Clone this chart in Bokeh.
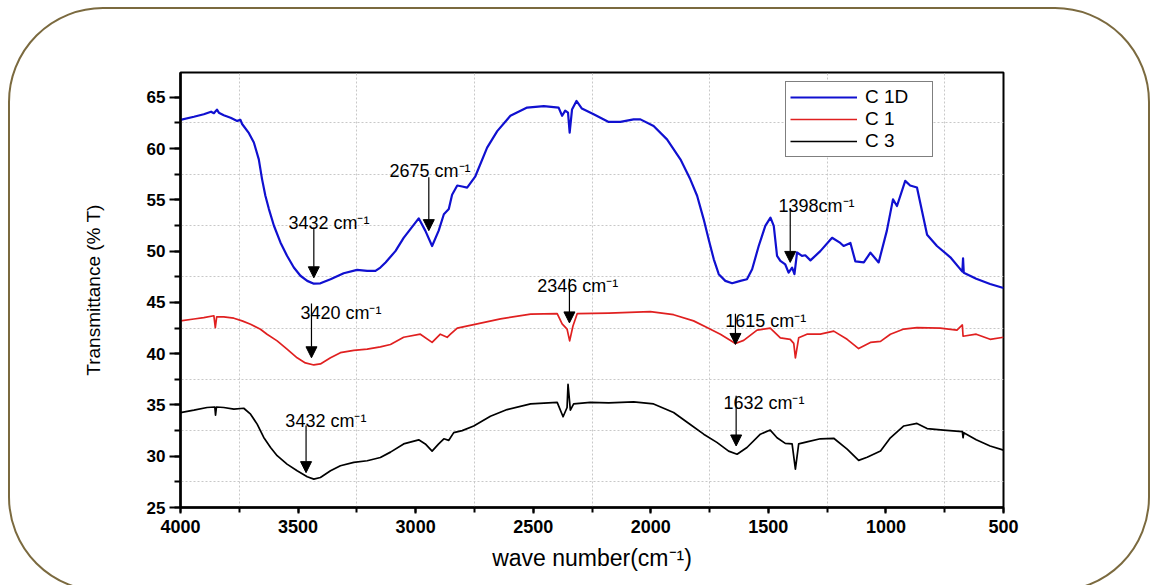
from bokeh.plotting import figure
from bokeh.models import (Range1d, SingleIntervalTicker, FixedTicker, Legend, LegendItem,
                          Arrow, NormalHead, ColumnDataSource, InlineStyleSheet)
from bokeh.core.properties import value
from bokeh.embed import file_html
from bokeh.resources import INLINE

# ---------------- data (wave number, % transmittance) ----------------
c1d_wn = [4000, 3943, 3901, 3870, 3858, 3845, 3837, 3816, 3787, 3759, 3745, 3738, 3709, 3688,
          3667, 3653, 3639, 3624, 3603, 3575, 3547, 3518, 3490, 3461, 3433, 3405, 3362, 3306,
          3249, 3206, 3171, 3150, 3128, 3086, 3051, 2987, 2959, 2930, 2902, 2880, 2859, 2845,
          2823, 2802, 2781, 2746, 2696, 2653, 2597, 2526, 2455, 2392, 2377, 2364, 2352, 2345,
          2335, 2316, 2293, 2243, 2179, 2129, 2073, 2044, 1988, 1931, 1874, 1832, 1803, 1775,
          1754, 1732, 1711, 1683, 1654, 1619, 1591, 1569, 1541, 1513, 1491, 1477, 1463, 1449,
          1428, 1414, 1399, 1389, 1378, 1357, 1343, 1321, 1279, 1229, 1194, 1180, 1151, 1130,
          1094, 1066, 1031, 996, 970, 953, 918, 897, 868, 825, 783, 726, 675, 672, 669, 616,
          557, 500]
c1d_t = [62.8, 63.1, 63.35, 63.6, 63.45, 63.8, 63.5, 63.25, 63.0, 62.7, 62.8, 62.4, 61.5, 60.6,
         58.95, 57.0, 55.4, 54.1, 52.5, 50.85, 49.55, 48.4, 47.6, 47.1, 46.83, 46.86, 47.26, 47.84,
         48.17, 48.07, 48.07, 48.4, 48.9, 50.0, 51.3, 53.2, 52.0, 50.5, 52.0, 53.6, 54.1, 55.5,
         56.4, 56.3, 56.2, 57.3, 60.1, 61.7, 63.2, 64.0, 64.15, 64.0, 63.2, 63.7, 63.5, 61.55,
         63.8, 64.65, 63.9, 63.35, 62.6, 62.6, 62.85, 62.85, 62.2, 60.9, 58.95, 57.0, 55.4, 53.1,
         51.15, 49.2, 47.75, 47.1, 46.87, 47.1, 47.26, 48.24, 50.5, 52.46, 53.27, 52.46, 49.54, 49.05,
         48.7, 47.9, 48.4, 47.75, 49.87, 49.54, 49.6, 49.1, 50.0, 51.3, 50.8, 50.5, 50.8, 49.0,
         48.9, 49.85, 48.9, 52.0, 55.05, 54.4, 56.85, 56.4, 56.2, 51.6, 50.5, 49.4, 48.0, 49.3, 47.9, 47.3,
         46.8, 46.4]

c1_wn = [4000, 3943, 3901, 3858, 3852, 3846, 3816, 3773, 3738, 3702, 3660, 3632, 3589, 3547,
         3504, 3469, 3433, 3405, 3362, 3320, 3263, 3206, 3150, 3107, 3051, 2980, 2930, 2895,
         2866, 2852, 2823, 2738, 2639, 2511, 2398, 2377, 2356, 2345, 2331, 2313, 2179, 2002,
         1903, 1818, 1761, 1704, 1640, 1605, 1548, 1492, 1449, 1407, 1392, 1385, 1371, 1336,
         1279, 1222, 1165, 1116, 1066, 1023, 981, 924, 868, 769, 698, 675, 672, 616, 557, 500]
c1_t = [43.2, 43.38, 43.52, 43.7, 42.55, 43.6, 43.59, 43.46, 43.2, 42.87, 42.38, 41.9, 41.25, 40.44,
        39.6, 39.1, 38.9, 39.0, 39.6, 40.1, 40.33, 40.44, 40.66, 40.9, 41.6, 41.9, 41.1, 41.9,
        41.6, 41.9, 42.5, 42.9, 43.4, 43.85, 43.9, 42.9, 42.4, 41.25, 42.7, 43.9, 43.95, 44.1,
        43.8, 43.2, 42.55, 41.9, 41.0, 41.3, 42.3, 42.5, 41.55, 41.4, 41.0, 39.6, 41.55, 41.9,
        41.9, 42.2, 41.4, 40.5, 41.1, 41.2, 41.9, 42.4, 42.55, 42.5, 42.3, 42.8, 41.7, 41.9, 41.4, 41.6]

c3_wn = [4000, 3943, 3887, 3854, 3851, 3847, 3816, 3773, 3731, 3702, 3674, 3646, 3617, 3589,
         3547, 3504, 3461, 3433, 3405, 3362, 3320, 3263, 3206, 3150, 3107, 3051, 2987, 2959,
         2930, 2902, 2880, 2859, 2838, 2802, 2753, 2682, 2611, 2511, 2398, 2373, 2356, 2352,
         2342, 2328, 2257, 2179, 2073, 1988, 1903, 1832, 1775, 1719, 1669, 1633, 1591, 1534,
         1492, 1463, 1428, 1399, 1385, 1371, 1336, 1279, 1222, 1165, 1116, 1080, 1023, 981,
         924, 868, 825, 755, 675, 672, 669, 616, 557, 500]
c3_t = [34.26, 34.49, 34.75, 34.8, 34.0, 34.8, 34.75, 34.59, 34.68, 34.1, 33.13, 31.83, 30.86, 30.05,
        29.23, 28.58, 28.0, 27.77, 27.93, 28.58, 29.07, 29.4, 29.56, 29.88, 30.4, 31.2, 31.6, 31.2,
        30.5, 31.2, 31.7, 31.55, 32.3, 32.5, 32.95, 33.9, 34.55, 35.1, 35.25, 33.85, 34.75, 37.0,
        34.5, 35.1, 35.25, 35.2, 35.3, 35.1, 34.26, 33.1, 32.15, 31.35, 30.5, 30.2, 30.85, 32.15,
        32.55, 31.8, 31.25, 31.2, 28.75, 31.2, 31.4, 31.7, 31.75, 30.7, 29.6, 29.9, 30.5, 31.8,
        32.95, 33.2, 32.7, 32.55, 32.4, 31.8, 32.3, 31.6, 31.0, 30.6]

series_names = ["C 1D", "C 1", "C 3"]

# peak annotations
ann_text = ["3432 cm⁻¹", "2675 cm⁻¹", "1398cm⁻¹", "3420 cm⁻¹", "2346 cm⁻¹", "1615 cm⁻¹",
            "3432 cm⁻¹", "1632 cm⁻¹"]
ann_text_x = [3541, 3111, 1457, 3490, 2483, 1683, 3554, 1691]
ann_text_y = [52.75, 57.8, 54.4, 44.0, 46.6, 43.2, 33.45, 35.2]
arrow_x = [3433, 2944, 1407, 3443, 2346, 1640, 3466, 1637]
arrow_y0 = [52.3, 57.2, 54.2, 44.9, 47.3, 43.9, 33.0, 35.9]
arrow_y1 = [47.4, 52.0, 48.9, 39.6, 43.0, 40.9, 28.4, 31.0]

x_ticks_major = [4000, 3500, 3000, 2500, 2000, 1500, 1000, 500]
y_ticks_major = [25, 30, 35, 40, 45, 50, 55, 60, 65]

FONT = "Liberation Sans"

p = figure(width=1150, height=585, x_range=Range1d(4000, 500), y_range=Range1d(25, 67.42),
           output_backend="svg", toolbar_location=None,
           min_border_left=180, min_border_right=147, min_border_top=72, min_border_bottom=78)
p.background_fill_color = "white"
p.border_fill_color = "white"
p.outline_line_color = "black"
p.outline_line_width = 2

# decorative rounded frame around the whole picture (pure CSS, clipped by the window)
p.stylesheets = [InlineStyleSheet(css="""
:host { position: relative; overflow: hidden; }
:host::after {
  content: ''; position: absolute; left: 8px; top: 7px; width: 1142px; height: 585px;
  border: 2.5px solid #7b6a3f; border-radius: 95px; box-sizing: border-box;
  pointer-events: none; z-index: 20;
}
""")]

# axes
p.xaxis.ticker = SingleIntervalTicker(interval=500, num_minor_ticks=2)
p.yaxis.ticker = SingleIntervalTicker(interval=5, num_minor_ticks=2)
for ax in (p.xaxis[0], p.yaxis[0]):
    ax.axis_line_width = 2.5
    ax.axis_line_color = "black"
    ax.major_tick_line_width = 2
    ax.minor_tick_line_width = 2
    ax.major_tick_in = 0
    ax.minor_tick_in = 0
    ax.major_label_text_font = FONT
    ax.major_label_text_font_style = "bold"
    ax.major_label_text_color = "black"
    ax.axis_label_text_font = FONT
    ax.axis_label_text_font_style = "normal"
    ax.axis_label_text_color = "black"
p.xaxis.major_tick_out = 6
p.xaxis.minor_tick_out = 5
p.yaxis.major_tick_out = 11
p.yaxis.minor_tick_out = 6
p.xaxis.major_label_text_font_size = "18px"
p.yaxis.major_label_text_font_size = "17px"
p.xaxis.major_label_standoff = 6
p.yaxis.major_label_standoff = 4
p.xaxis.axis_label = "wave number(cm⁻¹)"
p.yaxis.axis_label = "Transmittance (% T)"
p.xaxis.axis_label_text_font_size = "23px"
p.yaxis.axis_label_text_font_size = "19px"
p.xaxis.axis_label_standoff = 9
p.yaxis.axis_label_standoff = 40

# grid only at the half-interval positions, dotted
p.xgrid.ticker = FixedTicker(ticks=[v - 250 for v in x_ticks_major[:-1]])
p.ygrid.ticker = FixedTicker(ticks=[v + 2.5 for v in y_ticks_major[:-1]])
for g in (p.xgrid[0], p.ygrid[0]):
    g.grid_line_color = "#c8c8c8"
    g.grid_line_dash = "2 2"
    g.grid_line_width = 1

# curves
colors = ["#1010d0", "#e02020", "#000000"]
r1 = p.line(c1d_wn, c1d_t, line_color=colors[0], line_width=2.2, line_join="round")
r2 = p.line(c1_wn, c1_t, line_color=colors[1], line_width=1.7, line_join="round")
r3 = p.line(c3_wn, c3_t, line_color=colors[2], line_width=1.7, line_join="round")

# annotations
p.text(x=ann_text_x, y=ann_text_y, text=ann_text, text_font=value(FONT),
       text_font_size="18px", text_color="black", text_baseline="alphabetic", text_align="left")
arrow_src = ColumnDataSource(dict(x=arrow_x, y0=arrow_y0, y1=arrow_y1))
p.add_layout(Arrow(x_start="x", y_start="y0", x_end="x", y_end="y1", source=arrow_src,
                   line_color="black", line_width=1.2,
                   end=NormalHead(size=11, fill_color="black", line_color="black")))

# legend
legend = Legend(items=[LegendItem(label=series_names[0], renderers=[r1]),
                       LegendItem(label=series_names[1], renderers=[r2]),
                       LegendItem(label=series_names[2], renderers=[r3])],
                location=(605, 350), orientation="vertical")
legend.label_text_font = FONT
legend.label_text_font_size = "19px"
legend.label_text_color = "black"
legend.glyph_width = 67
legend.glyph_height = 20
legend.label_height = 20
legend.label_width = 63
legend.label_standoff = 8
legend.padding = 4
legend.spacing = 0
legend.margin = 0
legend.border_line_color = "black"
legend.border_line_width = 1.5
legend.background_fill_alpha = 1
p.add_layout(legend)

open("out.html", "w").write(file_html(p, INLINE))
